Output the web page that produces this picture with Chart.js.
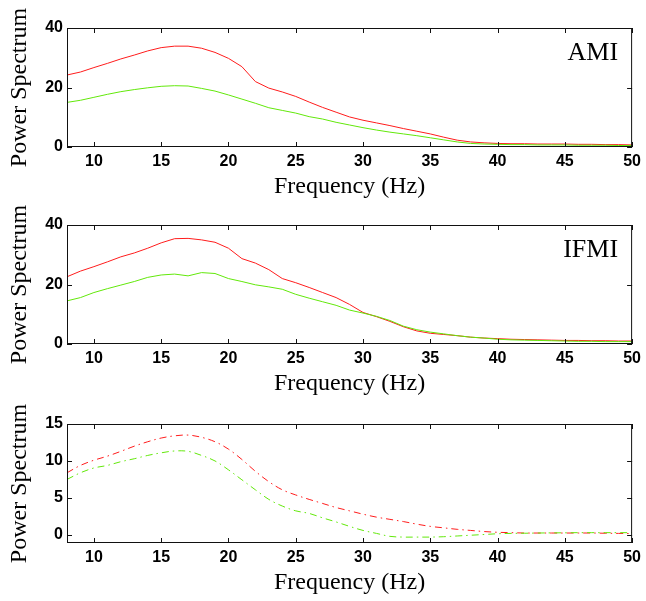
<!DOCTYPE html>
<html>
<head>
<meta charset="utf-8">
<script src="https://cdn.jsdelivr.net/npm/chart.js@4.4.1/dist/chart.umd.min.js"></script>
<style>
  html, body { margin: 0; padding: 0; background: #fff; }
  #wrap { position: relative; width: 646px; height: 601px; }
  #wrap canvas { position: absolute; left: 0; }
</style>
</head>
<body>
<div id="wrap">
  <canvas id="chart-ami" width="646" height="200" style="top:0px"></canvas>
  <canvas id="chart-ifmi" width="646" height="200" style="top:197px"></canvas>
  <canvas id="chart-diff" width="646" height="200" style="top:396px"></canvas>
</div>
<script>
// frequency axis (Hz)
const freqs = [8,9,10,11,12,13,14,15,16,17,18,19,20,21,22,23,24,25,26,27,28,29,
  30,31,32,33,34,35,36,37,38,39,40,41,42,43,44,45,46,47,48,49,50];
const xTicks = [10,15,20,25,30,35,40,45,50];

// AMI panel
const amiRed = [24.2,25.2,26.7,28.1,29.6,30.9,32.3,33.4,33.9,33.9,33.2,31.8,29.8,27.0,22.0,19.8,18.5,17.0,15.1,13.3,11.7,10.1,
  9.0,8.1,7.2,6.2,5.3,4.4,3.3,2.3,1.7,1.4,1.2,1.1,1.1,1.0,1.0,1.0,0.9,0.9,0.8,0.8,0.7];
const amiGreen = [15.0,15.7,16.7,17.7,18.6,19.3,19.9,20.4,20.6,20.5,19.7,18.8,17.5,16.1,14.7,13.2,12.3,11.4,10.2,9.4,8.3,7.4,
  6.5,5.7,5.0,4.4,3.8,3.1,2.4,1.7,1.2,1.0,0.9,0.8,0.8,0.7,0.7,0.7,0.6,0.6,0.6,0.5,0.5];

// IFMI panel
const ifmiRed = [22.6,24.5,26.0,27.6,29.3,30.6,32.2,34.0,35.4,35.5,35.0,34.2,32.2,28.7,27.2,25.0,22.0,20.6,19.0,17.3,15.6,13.3,
  10.6,9.2,7.6,5.8,4.4,3.6,3.2,2.8,2.3,2.0,1.8,1.6,1.5,1.4,1.3,1.2,1.2,1.1,1.1,1.0,1.0];
const ifmiGreen = [14.5,15.6,17.3,18.6,19.8,21.0,22.4,23.2,23.5,22.9,24.0,23.7,22.0,21.0,19.9,19.2,18.4,16.7,15.4,14.2,13.0,11.4,
  10.4,9.3,7.9,6.0,4.8,4.0,3.4,2.8,2.3,2.0,1.6,1.4,1.3,1.2,1.1,1.0,0.9,0.9,0.8,0.8,0.8];

// third panel (dash-dot)
const diffRed = [8.4,9.4,10.1,10.65,11.3,12.0,12.6,13.1,13.4,13.5,13.2,12.6,11.6,10.2,8.6,7.2,6.1,5.4,4.8,4.25,3.7,3.25,
  2.8,2.4,2.1,1.8,1.45,1.15,0.95,0.75,0.6,0.45,0.35,0.3,0.25,0.25,0.25,0.25,0.25,0.25,0.22,0.2,0.18];
const diffGreen = [7.5,8.4,9.05,9.4,9.9,10.3,10.75,11.1,11.35,11.3,10.75,10.0,8.8,7.45,6.1,4.8,3.9,3.25,2.9,2.3,1.75,1.15,
  0.6,0.2,-0.2,-0.3,-0.3,-0.3,-0.25,-0.15,-0.05,0.05,0.15,0.2,0.22,0.25,0.27,0.28,0.3,0.3,0.3,0.3,0.3];

const yTicks40 = [0,20,40];
const yTicks15 = [0,5,10,15];

const RED = '#ff1c1c';
const GREEN = '#62e80a';

// box round the plot with inward ticks on all four sides, plus the panel tag
const framePlugin = {
  id: 'frame',
  afterDatasetsDraw(chart, args, opts) {
    const { ctx, chartArea: a, scales: { x, y } } = chart;
    ctx.save();
    ctx.strokeStyle = '#111';
    ctx.lineWidth = 1;
    ctx.strokeRect(a.left + 0.5, a.top + 0.5, a.width - 1, a.height - 1);
    ctx.beginPath();
    x.ticks.forEach(t => {
      const px = Math.round(x.getPixelForValue(t.value)) + 0.5;
      ctx.moveTo(px, a.bottom); ctx.lineTo(px, a.bottom - 5);
      ctx.moveTo(px, a.top); ctx.lineTo(px, a.top + 5);
    });
    y.ticks.forEach(t => {
      const py = Math.round(y.getPixelForValue(t.value)) + 0.5;
      ctx.moveTo(a.left, py); ctx.lineTo(a.left + 5, py);
      ctx.moveTo(a.right, py); ctx.lineTo(a.right - 5, py);
    });
    ctx.stroke();
    if (opts.label) {
      ctx.fillStyle = '#000';
      ctx.font = '26px "Liberation Serif"';
      ctx.textAlign = 'right';
      ctx.textBaseline = 'alphabetic';
      ctx.fillText(opts.label, a.right - 14, a.top + 32);
    }
    ctx.restore();
  }
};

const tickFont = { family: '"Liberation Sans", Arial', size: 16, weight: 'bold' };
const titleFont = { family: '"Liberation Serif", "Times New Roman"', size: 24, lineHeight: 1 };

const makeSet = (vals, color, dash) => ({
  data: freqs.map((f, i) => ({ x: f, y: vals[i] })),
  borderColor: color,
  borderWidth: 1,
  borderDash: dash || [],
  pointRadius: 0,
  tension: dash ? 0.35 : 0,
  fill: false
});

const createPanel = (id, sets, yMin, yMax, yTicks, label) => {
  const el = document.getElementById(id);
  if (!el) return;
  new Chart(el, {
    type: 'line',
    data: { datasets: sets },
    options: {
      responsive: false,
      animation: false,
      layout: { padding: { top: 28, right: 12, left: 0, bottom: 0 } },
      plugins: { legend: { display: false }, tooltip: { enabled: false }, frame: { label: label } },
      scales: {
        x: {
          type: 'linear', min: 8, max: 50,
          afterFit: s => { s.height = 53; },
          afterBuildTicks: s => { s.ticks = xTicks.map(v => ({ value: v })); },
          grid: { display: false, drawTicks: false },
          border: { display: false },
          ticks: { font: tickFont, color: '#000', padding: 5, maxRotation: 0, autoSkip: false },
          title: { display: true, text: 'Frequency (Hz)', font: titleFont, color: '#000', padding: { top: 0, bottom: 1 } }
        },
        y: {
          min: yMin, max: yMax,
          afterFit: s => { s.width = 67; },
          afterBuildTicks: s => { s.ticks = yTicks.map(v => ({ value: v })); },
          grid: { display: false, drawTicks: false },
          border: { display: false },
          ticks: { font: tickFont, color: '#000', padding: 4 },
          title: { display: true, text: 'Power Spectrum', font: titleFont, color: '#000', padding: { top: 8, bottom: 0 } }
        }
      }
    },
    plugins: [framePlugin]
  });
};

createPanel('chart-ami', [makeSet(amiGreen, GREEN), makeSet(amiRed, RED)], 0, 40, yTicks40, 'AMI');
createPanel('chart-ifmi', [makeSet(ifmiGreen, GREEN), makeSet(ifmiRed, RED)], 0, 40, yTicks40, 'IFMI');
createPanel('chart-diff', [makeSet(diffGreen, GREEN, [7, 4, 1.5, 4]), makeSet(diffRed, RED, [7, 4, 1.5, 4])], -1.1, 15, yTicks15, null);
</script>
</body>
</html>
